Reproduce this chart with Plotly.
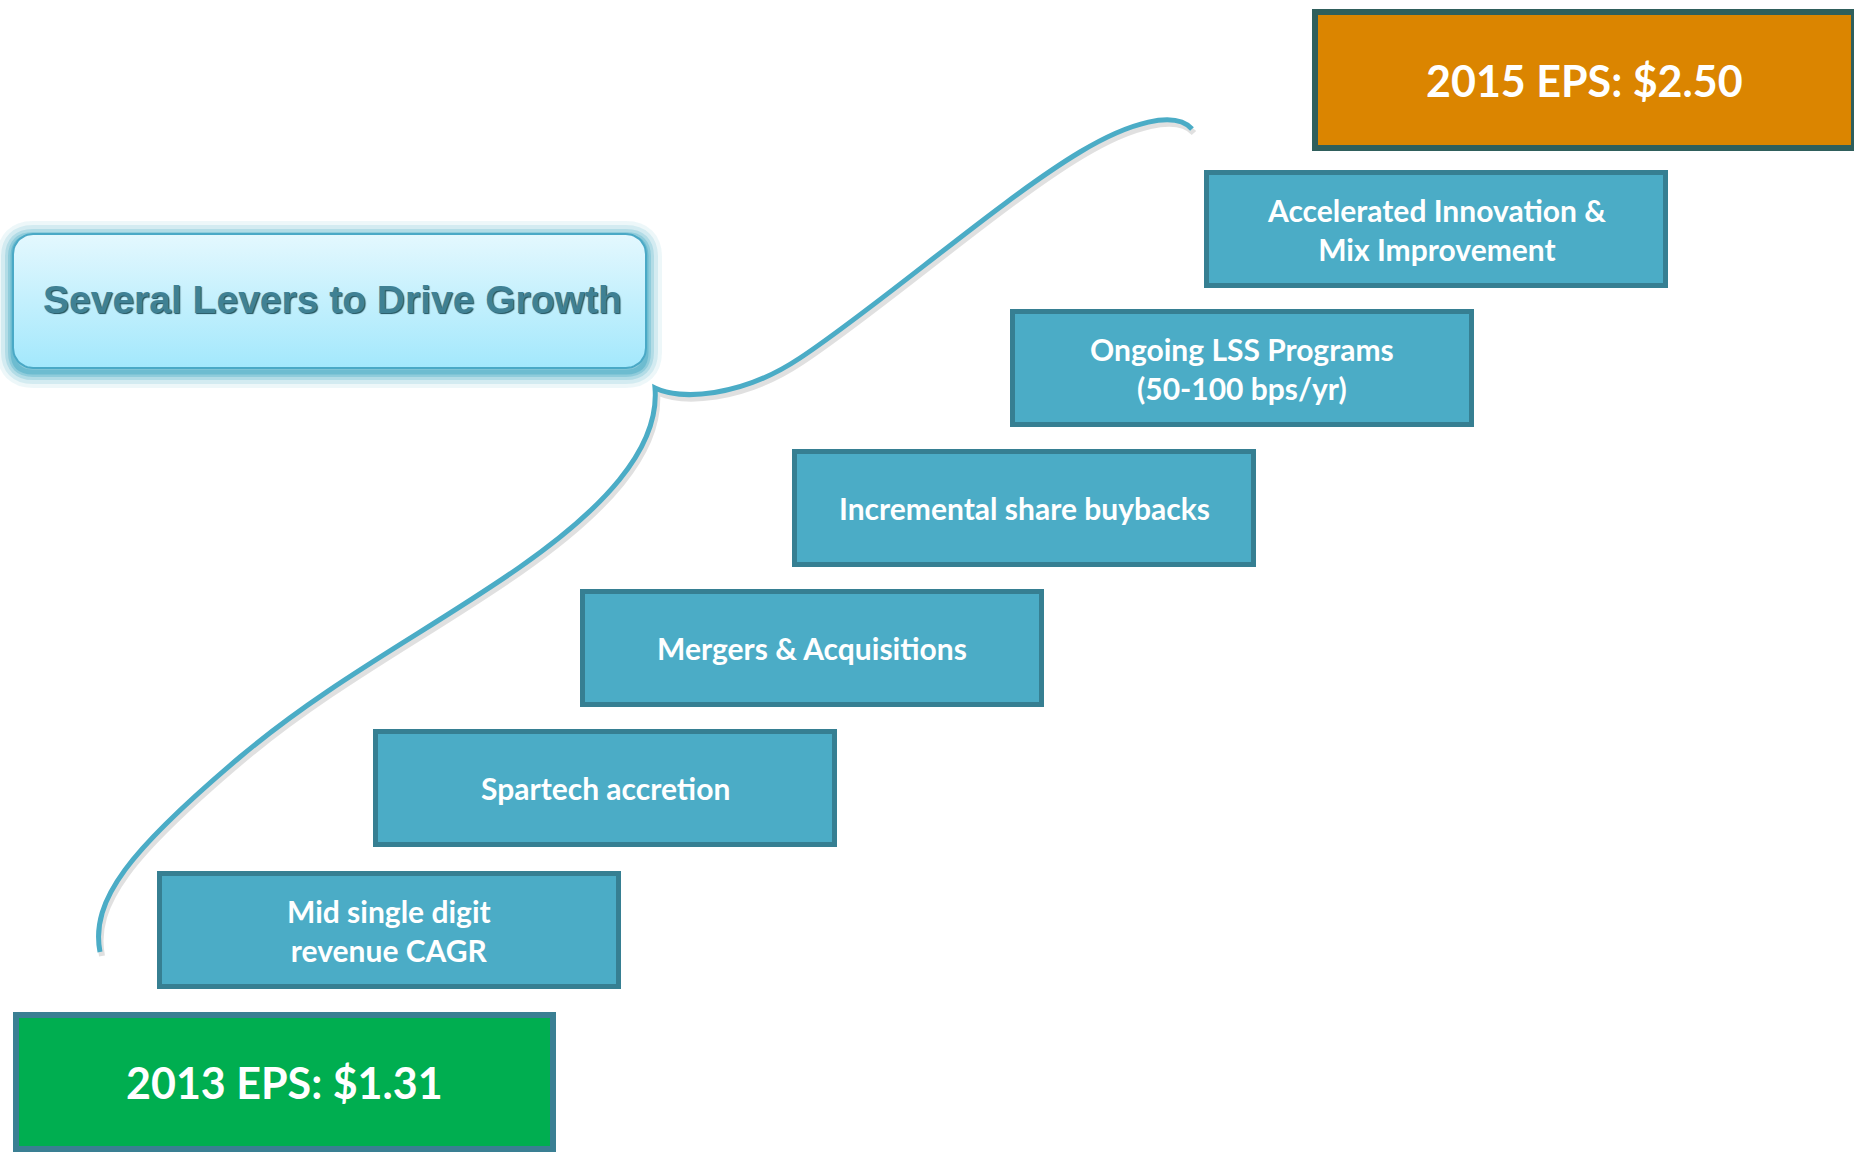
"""
Staircase diagram: levers driving EPS growth, 2013 -> 2015
"""

import numpy as np
import plotly.graph_objects as go

# Data
title_text = "Several Levers to Drive Growth"
eps_years = [2013, 2015]
eps_values = [1.31, 2.50]
step_labels = [
    "Mid single digit<br>revenue CAGR",
    "Spartech accretion",
    "Mergers & Acquisitions",
    "Incremental share buybacks",
    "Ongoing LSS Programs<br>(50-100 bps/yr)",
    "Accelerated Innovation &<br>Mix Improvement",
]

# Layout (pixel space of a 1854 x 1153 canvas, y downwards)
W, H = 1854, 1153
step_x0 = [157, 373, 580, 792, 1010, 1204]
step_y0 = [871, 729, 589, 449, 309, 170]
step_w, step_h = 464, 118
start_box = (13, 1012, 556, 1152)
end_box = (1312, 9, 1857, 151)
title_box = (13, 234, 646, 368)

# Brace: start point followed by cubic segments (c1, c2, end)
brace_start = (100, 952)
brace_segments = [
    ((90, 900), (130, 850), (240, 757)),
    ((330, 681), (430, 630), (520, 567)),
    ((600, 511), (660, 450), (655, 388)),
    ((680, 400), (740, 398), (800, 358)),
    ((880, 305), (1000, 200), (1080, 152)),
    ((1130, 122), (1175, 110), (1192, 129)),
]

STEP_FILL = '#4bacc6'
STEP_LINE = '#367f92'
TEAL = '#4bacc6'


def rounded_rect_points(x0, y0, x1, y1, r, n=12):
    """Closed outline of a rounded rectangle as point lists"""
    xs, ys = [], []
    corners = [
        (x1 - r, y0 + r, -np.pi / 2, 0),
        (x1 - r, y1 - r, 0, np.pi / 2),
        (x0 + r, y1 - r, np.pi / 2, np.pi),
        (x0 + r, y0 + r, np.pi, 1.5 * np.pi),
    ]
    for cx, cy, a0, a1 in corners:
        t = np.linspace(a0, a1, n)
        xs.extend(cx + r * np.cos(t))
        ys.extend(cy + r * np.sin(t))
    xs.append(xs[0])
    ys.append(ys[0])
    return xs, ys


def rounded_rect_path(x0, y0, x1, y1, r):
    return (f'M {x0 + r},{y0} L {x1 - r},{y0} Q {x1},{y0} {x1},{y0 + r} '
            f'L {x1},{y1 - r} Q {x1},{y1} {x1 - r},{y1} '
            f'L {x0 + r},{y1} Q {x0},{y1} {x0},{y1 - r} '
            f'L {x0},{y0 + r} Q {x0},{y0} {x0 + r},{y0} Z')


def brace_path(dx=0, dy=0):
    p = f'M {brace_start[0] + dx},{brace_start[1] + dy}'
    for seg in brace_segments:
        p += ' C ' + ' '.join(f'{x + dx},{y + dy}' for x, y in seg)
    return p


fig = go.Figure()
shapes = []
annotations = []

# Glow around the title box
tx0, ty0, tx1, ty1 = title_box
for width, alpha in [(32, 0.1), (24, 0.16), (16, 0.24), (10, 0.34), (5, 0.5)]:
    shapes.append(dict(
        type='path', path=rounded_rect_path(tx0, ty0 + 3, tx1, ty1 + 4, 20),
        line=dict(color=f'rgba(75,172,198,{alpha})', width=width),
        layer='below'
    ))

# Title box with vertical gradient
bx, by = rounded_rect_points(tx0, ty0, tx1, ty1, 20)
fig.add_trace(go.Scatter(
    x=bx, y=by, mode='lines', fill='toself',
    fillgradient=dict(type='vertical', start=ty0, stop=ty1,
                      colorscale=[[0, '#e4f8fe'], [1, '#a3e8fc']]),
    line=dict(color='#4aa9c6', width=2),
    hoverinfo='skip', showlegend=False
))
annotations.append(dict(
    x=(tx0 + tx1) / 2 + 3, y=(ty0 + ty1) / 2 - 2, text=f'<b>{title_text}</b>',
    showarrow=False, xanchor='center', yanchor='middle',
    font=dict(family='Liberation Sans, Arial, sans-serif', size=39,
              color='#3f8194', shadow='1px 1px 1px #1d4f5c')
))

# Curly brace spanning the staircase
shapes.append(dict(type='path', path=brace_path(2, 4),
                   line=dict(color='rgba(0,0,0,0.12)', width=6), layer='above'))
shapes.append(dict(type='path', path=brace_path(),
                   line=dict(color=TEAL, width=5), layer='above'))

# Steps
for label, x0, y0 in zip(step_labels, step_x0, step_y0):
    shapes.append(dict(
        type='rect', x0=x0 + 2.5, y0=y0 + 2.5, x1=x0 + step_w - 2.5, y1=y0 + step_h - 2.5,
        fillcolor=STEP_FILL, line=dict(color=STEP_LINE, width=5), layer='above'
    ))
    annotations.append(dict(
        x=x0 + step_w / 2, y=y0 + step_h / 2, text=f'<b>{label}</b>',
        showarrow=False, xanchor='center', yanchor='middle',
        font=dict(family='Lato, sans-serif', size=30, color='white')
    ))

# Start and end EPS boxes
eps_styles = [(start_box, '#00ae50', '#3a7f93'), (end_box, '#db8500', '#2f5f5c')]
for year, value, (box, fill, edge) in zip(eps_years, eps_values, eps_styles):
    x0, y0, x1, y1 = box
    shapes.append(dict(
        type='rect', x0=x0 + 3, y0=y0 + 3, x1=x1 - 3, y1=y1 - 3,
        fillcolor=fill, line=dict(color=edge, width=6), layer='above'
    ))
    annotations.append(dict(
        x=(x0 + x1) / 2, y=(y0 + y1) / 2, text=f'<b>{year} EPS: ${value:.2f}</b>',
        showarrow=False, xanchor='center', yanchor='middle',
        font=dict(family='Lato, sans-serif', size=43, color='white')
    ))

fig.update_layout(
    width=W, height=H,
    margin=dict(l=0, r=0, t=0, b=0),
    plot_bgcolor='white', paper_bgcolor='white',
    shapes=shapes, annotations=annotations,
    showlegend=False
)
fig.update_xaxes(range=[0, W], visible=False, fixedrange=True)
fig.update_yaxes(range=[H, 0], visible=False, fixedrange=True)

fig.write_html("out.html", config={'displayModeBar': False},
               post_script="document.body.style.margin='0';")
